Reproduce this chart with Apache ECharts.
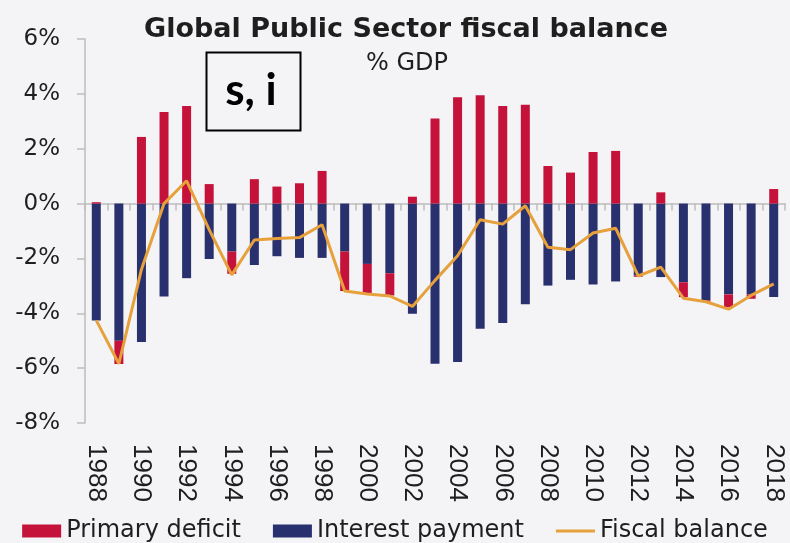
<!DOCTYPE html>
<html>
<head>
<meta charset="utf-8">
<script src="https://cdn.jsdelivr.net/npm/echarts@6/dist/echarts.min.js"></script>
<style>
  html, body { margin: 0; padding: 0; background: #f4f4f6; }
  #chart { width: 790px; height: 543px; }
</style>
</head>
<body>
<div id="chart"></div>
<script>
// Global public sector fiscal balance, % of GDP, 1988-2018
const years = ['1988','1989','1990','1991','1992','1993','1994','1995','1996','1997',
  '1998','1999','2000','2001','2002','2003','2004','2005','2006','2007',
  '2008','2009','2010','2011','2012','2013','2014','2015','2016','2017','2018'];

const primaryDeficit = [0.05, -0.85, 2.43, 3.34, 3.56, 0.71, -0.81, 0.89, 0.62, 0.74,
  1.19, -1.44, -1.09, -0.81, 0.25, 3.10, 3.88, 3.95, 3.56, 3.60,
  1.37, 1.13, 1.88, 1.92, -0.05, 0.41, -0.54, -0.05, -0.47, -0.16, 0.53];

const interestPayment = [-4.26, -5.00, -5.05, -3.39, -2.72, -2.02, -1.75, -2.24, -1.92, -1.98,
  -1.98, -1.75, -2.20, -2.54, -4.02, -5.84, -5.78, -4.56, -4.35, -3.67,
  -2.99, -2.78, -2.95, -2.84, -2.62, -2.68, -2.87, -3.53, -3.31, -3.31, -3.41];

const fiscalBalance = [-4.26, -5.84, -2.40, 0.00, 0.83, -0.95, -2.60, -1.33, -1.27, -1.24,
  -0.77, -3.19, -3.30, -3.37, -3.75, -2.80, -1.90, -0.59, -0.75, -0.08,
  -1.59, -1.68, -1.07, -0.90, -2.64, -2.32, -3.45, -3.58, -3.85, -3.35, -2.93];

const yTicks = { min: -8, max: 6, step: 2 };

const RED = '#c5123a';
const BLUE = '#29306e';
const ORANGE = '#e6a13c';
const TEXT = '#1e1e1e';
const AXIS = '#bdbdbd';

const chart = echarts.init(document.getElementById('chart'));

chart.setOption({
  backgroundColor: '#f4f4f6',
  animation: false,
  title: [
    {
      text: 'Global Public Sector fiscal balance',
      left: 406, top: 16, textAlign: 'center', padding: 0,
      textStyle: { fontFamily: 'DejaVu Sans', fontWeight: 'bold', fontSize: 27, color: TEXT }
    },
    {
      text: '% GDP',
      left: 407, top: 52, textAlign: 'center', padding: 0,
      textStyle: { fontFamily: 'DejaVu Sans', fontWeight: 'normal', fontSize: 24, color: TEXT }
    }
  ],
  legend: {
    left: 'center',
    top: 514,
    itemWidth: 39,
    itemHeight: 13,
    itemGap: 32,
    textStyle: { fontFamily: 'DejaVu Sans', fontSize: 24, color: TEXT },
    data: [
      { name: 'Primary deficit', icon: 'rect' },
      { name: 'Interest payment', icon: 'rect' },
      // thin bar shape so the line legend shows a plain stroke
      { name: 'Fiscal balance', icon: 'path://M0,0 H40 V3 H0 Z' }
    ]
  },
  grid: { left: 85, right: 5, top: 39, bottom: 120 },
  xAxis: [
    {
      type: 'category',
      data: years,
      position: 'bottom',
      axisLine: { show: false, onZero: false },
      axisTick: { show: false },
      axisLabel: {
        interval: 1,
        rotate: -90,
        margin: 21,
        fontFamily: 'Liberation Sans',
        fontSize: 26,
        color: TEXT
      }
    },
    {
      type: 'category',
      data: years,
      position: 'bottom',
      axisLine: { show: true, onZero: true, lineStyle: { color: AXIS, width: 1.5 } },
      axisTick: { show: true, interval: 0, length: 7, lineStyle: { color: AXIS, width: 1.5 } },
      axisLabel: { show: false }
    }
  ],
  yAxis: {
    type: 'value',
    min: yTicks.min,
    max: yTicks.max,
    interval: yTicks.step,
    splitLine: { show: false },
    axisLine: { show: true, lineStyle: { color: AXIS, width: 1.5 } },
    axisTick: { show: true, length: 8, lineStyle: { color: AXIS, width: 1.5 } },
    axisLabel: {
      margin: 25,
      fontFamily: 'DejaVu Sans',
      fontSize: 23,
      color: TEXT,
      formatter: v => v + '%'
    }
  },
  series: [
    {
      name: 'Interest payment',
      type: 'bar',
      stack: 'balance',
      barWidth: 9,
      itemStyle: { color: BLUE },
      data: interestPayment
    },
    {
      name: 'Primary deficit',
      type: 'bar',
      stack: 'balance',
      barWidth: 9,
      itemStyle: { color: RED },
      data: primaryDeficit
    },
    {
      name: 'Fiscal balance',
      type: 'line',
      symbol: 'none',
      lineStyle: { color: ORANGE, width: 3 },
      itemStyle: { color: ORANGE },
      z: 5,
      data: fiscalBalance
    }
  ],
  graphic: [
    {
      type: 'rect',
      left: 204, top: 50,
      shape: { width: 94, height: 78 },
      style: { fill: 'none', stroke: '#000', lineWidth: 2 }
    },
    {
      type: 'text',
      x: 251, y: 91,
      style: {
        text: 's, i',
        fontFamily: 'Lato',
        fontWeight: 'bold',
        fontSize: 44,
        fill: '#000',
        align: 'center',
        verticalAlign: 'middle'
      }
    }
  ]
});
</script>
</body>
</html>
